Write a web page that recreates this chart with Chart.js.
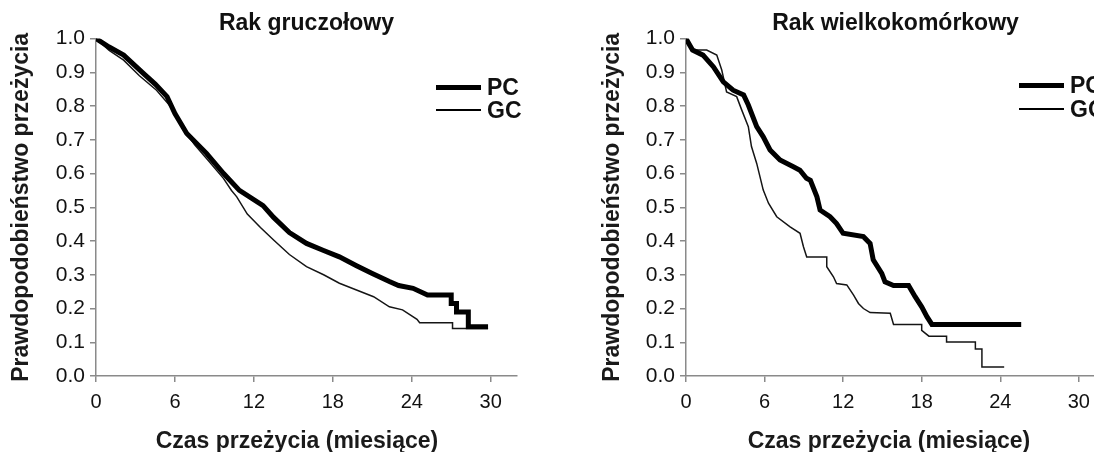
<!DOCTYPE html>
<html>
<head>
<meta charset="utf-8">
<script src="https://cdn.jsdelivr.net/npm/chart.js@4.4.1/dist/chart.umd.min.js"></script>
<style>
  html, body { margin: 0; padding: 0; background: #fff; overflow: hidden; }
  body { width: 1094px; height: 452px; position: relative; font-family: 'Liberation Sans', Arial, sans-serif; }
  .panel { position: absolute; top: 0; height: 452px; }
  #leftPanel { left: 0; width: 547px; }
  #rightPanel { left: 547px; width: 560px; }
  .legend-row { position: absolute; height: 26px; display: flex; align-items: center; white-space: nowrap;
                font-weight: bold; font-size: 23px; color: #111; }
  .legend-row .swatch { width: 45px; background: #000; margin-right: 6px; }
  .x-title { position: absolute; top: 426px; width: 400px; text-align: center; line-height: 28px;
             font-weight: bold; font-size: 23px; color: #1a1a1a; white-space: nowrap; }
</style>
</head>
<body>
  <div class="panel" id="leftPanel"><canvas id="adenoChart" width="547" height="452"></canvas></div>
  <div class="panel" id="rightPanel"><canvas id="largeCellChart" width="560" height="452"></canvas></div>

  <!-- legends -->
  <div class="legend-row" style="left:436px; top:74px;"><span class="swatch" style="height:5px"></span>PC</div>
  <div class="legend-row" style="left:436px; top:97px;"><span class="swatch" style="height:1.5px"></span>GC</div>
  <div class="legend-row" style="left:1019px; top:72px;"><span class="swatch" style="height:5px"></span>PC</div>
  <div class="legend-row" style="left:1019px; top:96px;"><span class="swatch" style="height:1.5px"></span>GC</div>

  <!-- x axis titles -->
  <div class="x-title" style="left:97px;">Czas przeżycia (miesiące)</div>
  <div class="x-title" style="left:689px;">Czas przeżycia (miesiące)</div>

<script>
// axis ticks
const xTickValues = [0, 6, 12, 18, 24, 30];
const yTickValues = [0, 0.1, 0.2, 0.3, 0.4, 0.5, 0.6, 0.7, 0.8, 0.9, 1.0];

// Rak gruczołowy - PC
const adenoPcMonths = [0, 1, 2.1, 3.6, 4.5, 5.4, 6.0, 6.9, 8.4, 9.7, 10.9, 12.7, 13.5, 14.7, 16.0, 17.3, 18.5, 19.8, 21.0, 22.3, 23.0, 24.1, 25.2, 27.0, 27.0, 27.4, 27.4, 28.3, 28.3, 29.8];
const adenoPcSurv = [1.0, 0.975, 0.951, 0.897, 0.865, 0.828, 0.778, 0.719, 0.66, 0.60, 0.55, 0.505, 0.47, 0.425, 0.393, 0.372, 0.353, 0.327, 0.304, 0.28, 0.268, 0.26, 0.24, 0.24, 0.215, 0.215, 0.19, 0.19, 0.146, 0.146];

// Rak gruczołowy - GC
const adenoGcMonths = [0, 1, 2.1, 3.3, 4.6, 5.9, 6.5, 7.5, 8.5, 9.7, 10.3, 10.7, 11.5, 12.5, 13.5, 14.7, 16.0, 17.3, 18.5, 19.8, 21.1, 22.3, 23.3, 24.4, 24.6, 27.1, 27.1, 29.8];
const adenoGcSurv = [1.0, 0.965, 0.936, 0.89, 0.847, 0.788, 0.74, 0.685, 0.64, 0.585, 0.55, 0.531, 0.48, 0.44, 0.403, 0.36, 0.324, 0.30, 0.275, 0.255, 0.235, 0.205, 0.196, 0.168, 0.158, 0.158, 0.141, 0.141];

// Rak wielkokomórkowy - PC
const largePcMonths = [0, 0.5, 1.3, 2.1, 2.85, 3.6, 4.4, 4.76, 5.4, 5.9, 6.42, 7.18, 8.2, 8.7, 9.2, 9.5, 10.0, 10.24, 11.0, 11.5, 12.0, 13.55, 14.06, 14.3, 14.95, 15.2, 15.85, 17.0, 17.5, 18.0, 18.4, 18.78, 25.6];
const largePcSurv = [1.0, 0.966, 0.951, 0.916, 0.872, 0.847, 0.833, 0.803, 0.739, 0.709, 0.67, 0.64, 0.62, 0.61, 0.586, 0.58, 0.531, 0.492, 0.472, 0.452, 0.423, 0.413, 0.393, 0.344, 0.304, 0.279, 0.268, 0.268, 0.235, 0.205, 0.176, 0.153, 0.153];

// Rak wielkokomórkowy - GC
const largeGcMonths = [0, 0.56, 1.58, 2.35, 2.73, 3.1, 3.87, 4.26, 4.76, 5.0, 5.4, 5.9, 6.3, 6.93, 7.95, 8.71, 8.97, 9.22, 10.75, 10.75, 11.26, 11.5, 12.28, 12.8, 13.17, 13.55, 14.06, 15.6, 15.85, 18.0, 18.0, 18.55, 19.9, 19.9, 22.1, 22.1, 22.6, 22.6, 24.3];
const largeGcSurv = [1.0, 0.966, 0.966, 0.951, 0.907, 0.842, 0.828, 0.788, 0.739, 0.68, 0.63, 0.551, 0.512, 0.472, 0.442, 0.423, 0.383, 0.353, 0.353, 0.324, 0.294, 0.274, 0.27, 0.24, 0.215, 0.2, 0.188, 0.186, 0.153, 0.153, 0.135, 0.118, 0.118, 0.101, 0.101, 0.08, 0.08, 0.027, 0.027];

const FONT = "'Liberation Sans', Arial, sans-serif";
const AXIS_GRAY = '#8a8a8a';

function toPoints(xs, ys) {
  return xs.map((x, i) => ({ x: x, y: ys[i] }));
}

function makeChart(id, title, pc, gc, padLeft, padRight, yAxisWidth) {
  const ctx = document.getElementById(id).getContext('2d');
  return new Chart(ctx, {
    type: 'line',
    data: {
      datasets: [
        { label: 'PC', data: pc, borderColor: '#000', borderWidth: 5, pointRadius: 0, tension: 0, fill: false },
        { label: 'GC', data: gc, borderColor: '#151515', borderWidth: 1.5, pointRadius: 0, tension: 0, fill: false }
      ]
    },
    options: {
      responsive: false,
      animation: false,
      devicePixelRatio: 1,
      layout: { padding: { left: padLeft, right: padRight, top: 0, bottom: 0 } },
      plugins: {
        legend: { display: false },
        tooltip: { enabled: false },
        title: {
          display: true,
          text: title,
          fullSize: false,
          color: '#111',
          font: { family: FONT, size: 23, weight: 'bold' },
          padding: { top: 10, bottom: 1 }
        }
      },
      scales: {
        x: {
          type: 'linear',
          min: 0,
          max: 32,
          afterBuildTicks: (scale) => { scale.ticks = xTickValues.map(v => ({ value: v })); },
          afterFit: (scale) => { scale.height = 76; },
          grid: { drawOnChartArea: false, drawTicks: true, tickLength: 6, color: AXIS_GRAY, lineWidth: 1.5 },
          border: { display: true, color: AXIS_GRAY, width: 1.5 },
          ticks: { color: '#111', padding: 8, font: { family: FONT, size: 20 } }
        },
        y: {
          type: 'linear',
          min: 0,
          max: 1,
          afterBuildTicks: (scale) => { scale.ticks = yTickValues.map(v => ({ value: v })); },
          afterFit: (scale) => { scale.width = yAxisWidth; },
          grid: { drawOnChartArea: false, drawTicks: true, tickLength: 6, color: AXIS_GRAY, lineWidth: 1.5 },
          border: { display: true, color: AXIS_GRAY, width: 1.5 },
          ticks: {
            color: '#111',
            padding: 5,
            font: { family: FONT, size: 21 },
            callback: (v) => Number(v).toFixed(1)
          },
          title: {
            display: true,
            text: 'Prawdopodobieństwo przeżycia',
            color: '#1a1a1a',
            font: { family: FONT, size: 23, weight: 'bold' },
            padding: { top: 4, bottom: 4 }
          }
        }
      }
    }
  });
}

makeChart('adenoChart', 'Rak gruczołowy',
  toPoints(adenoPcMonths, adenoPcSurv), toPoints(adenoGcMonths, adenoGcSurv), 4, 30, 92);
makeChart('largeCellChart', 'Rak wielkokomórkowy',
  toPoints(largePcMonths, largePcSurv), toPoints(largeGcMonths, largeGcSurv), 48, 2, 91);
</script>
</body>
</html>
